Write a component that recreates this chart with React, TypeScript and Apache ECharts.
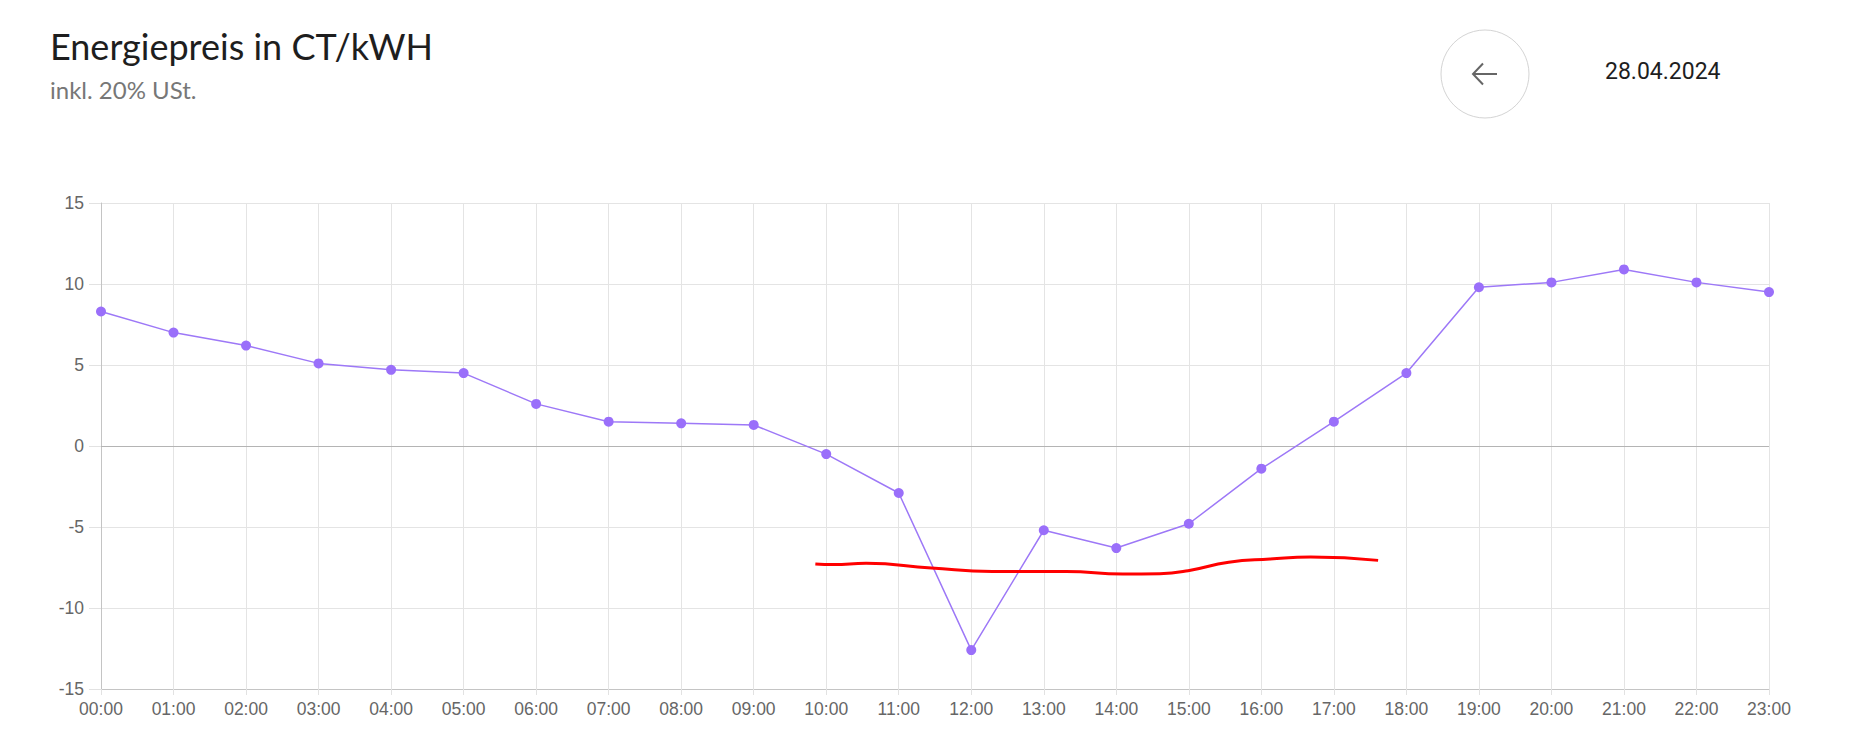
import React, { useEffect, useRef } from "react";
import * as echarts from "echarts";

const hours: string[] = [
  "00:00", "01:00", "02:00", "03:00", "04:00", "05:00", "06:00", "07:00",
  "08:00", "09:00", "10:00", "11:00", "12:00", "13:00", "14:00", "15:00",
  "16:00", "17:00", "18:00", "19:00", "20:00", "21:00", "22:00", "23:00",
];

const prices: number[] = [
  8.3, 7.0, 6.2, 5.1, 4.7, 4.5, 2.6, 1.5, 1.4, 1.3, -0.5, -2.9,
  -12.6, -5.2, -6.3, -4.8, -1.4, 1.5, 4.5, 9.8, 10.1, 10.9, 10.1, 9.5,
];

// hand-drawn red annotation: [hour position, value]
const redStrokeHours: number[] = [9.85, 10.1, 10.55, 11.45, 12.29, 13.31, 14.09, 14.6, 14.99, 15.55, 16.12, 16.68, 17.61];
const redStrokeValues: number[] = [-7.28, -7.32, -7.24, -7.53, -7.74, -7.74, -7.9, -7.88, -7.7, -7.18, -6.98, -6.85, -7.06];

const titleText = "Energiepreis in CT/kWH";
const subtitleText = "inkl. 20% USt.";
const dateText = "28.04.2024";

export default function App() {
  const ref = useRef<HTMLDivElement>(null);

  useEffect(() => {
    if (!ref.current) return;
    const chart = echarts.init(ref.current, undefined, { renderer: "svg" });
    const axisFont = { fontFamily: "Liberation Sans, Arial, sans-serif", fontSize: 17.5, color: "#666" };
    chart.setOption({
      animation: false,
      backgroundColor: "#fff",
      grid: { left: 101, right: 84, top: 203, bottom: 64, containLabel: false },
      xAxis: [
        {
          type: "category",
          data: hours,
          boundaryGap: false,
          axisLine: { show: true, onZero: false, lineStyle: { color: "#c4c4c4", width: 1 } },
          axisTick: { show: true, length: 6, alignWithLabel: true, lineStyle: { color: "#e2e2e2" } },
          axisLabel: { ...axisFont, margin: 11, interval: 0 },
          splitLine: { show: true, lineStyle: { color: "#e4e4e4", width: 1 } },
        },
        {
          type: "value",
          min: 0,
          max: 23,
          show: false,
        },
      ],
      yAxis: {
        type: "value",
        min: -15,
        max: 15,
        interval: 5,
        axisLine: { show: true, lineStyle: { color: "#c4c4c4", width: 1 } },
        axisTick: { show: true, length: 12, lineStyle: { color: "#e2e2e2" } },
        axisLabel: { ...axisFont, margin: 17 },
        splitLine: { show: true, lineStyle: { color: "#e4e4e4", width: 1 } },
      },
      series: [
        {
          type: "line",
          data: prices,
          xAxisIndex: 0,
          symbol: "circle",
          symbolSize: 10,
          showSymbol: true,
          lineStyle: { color: "#9d78f7", width: 1.5 },
          itemStyle: { color: "#9a6ffa" },
          z: 3,
          markLine: {
            silent: true,
            symbol: "none",
            label: { show: false },
            lineStyle: { color: "#b4b4b4", type: "solid", width: 1 },
            data: [{ yAxis: 0 }],
            z: 1,
          },
        },
        {
          type: "line",
          xAxisIndex: 1,
          data: redStrokeHours.map((h, i) => [h, redStrokeValues[i]]),
          smooth: true,
          showSymbol: false,
          symbol: "none",
          lineStyle: { color: "#ff0000", width: 3 },
          z: 4,
        },
      ],
      graphic: [
        {
          type: "text",
          left: 50,
          top: 28,
          style: {
            text: titleText,
            fontFamily: "Lato, sans-serif",
            fontSize: 36,
            fill: "#1e1e1e",
          },
        },
        {
          type: "text",
          left: 50,
          top: 77,
          style: {
            text: subtitleText,
            fontFamily: "Lato, sans-serif",
            fontSize: 24,
            fill: "#777",
          },
        },
        {
          type: "circle",
          shape: { cx: 1485, cy: 74, r: 44 },
          style: { fill: "#fff", stroke: "#d4d4d4", lineWidth: 1 },
        },
        {
          type: "polyline",
          shape: { points: [[1483, 63.5], [1473, 74], [1483, 84.5]] },
          style: { stroke: "#666", lineWidth: 2, fill: "none" },
        },
        {
          type: "line",
          shape: { x1: 1473, y1: 74, x2: 1497, y2: 74 },
          style: { stroke: "#666", lineWidth: 2 },
        },
        {
          type: "text",
          left: 1605,
          top: 60,
          style: {
            text: dateText,
            fontFamily: "Roboto, sans-serif",
            fontSize: 23,
            fill: "#1e1e1e",
          },
        },
      ],
    });
    return () => chart.dispose();
  }, []);

  return (
    <div
      ref={ref}
      style={{ position: "fixed", left: 0, top: 0, width: 1853, height: 753, background: "#fff" }}
    />
  );
}
